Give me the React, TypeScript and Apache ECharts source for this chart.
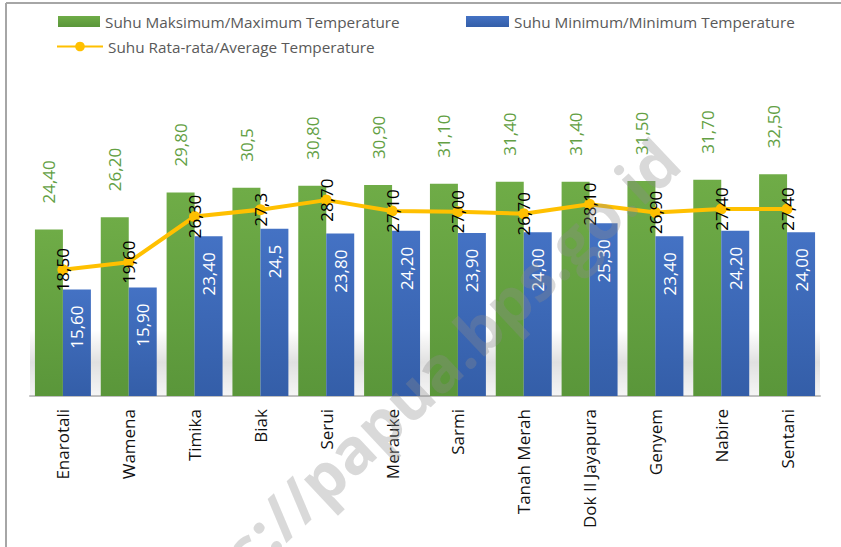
import React, { useEffect, useRef } from "react";
import * as echarts from "echarts";

const categories = [
  "Enarotali", "Wamena", "Timika", "Biak", "Serui", "Merauke",
  "Sarmi", "Tanah Merah", "Dok II Jayapura", "Genyem", "Nabire", "Sentani",
];
const maxTempText = ["24,40", "26,20", "29,80", "30,5", "30,80", "30,90", "31,10", "31,40", "31,40", "31,50", "31,70", "32,50"];
const minTempText = ["15,60", "15,90", "23,40", "24,5", "23,80", "24,20", "23,90", "24,00", "25,30", "23,40", "24,20", "24,00"];
const avgTempText = ["18,50", "19,60", "26,30", "27,3", "28,70", "27,10", "27,00", "26,70", "28,10", "26,90", "27,40", "27,40"];

const NAME_MAX = "Suhu Maksimum/Maximum Temperature";
const NAME_MIN = "Suhu Minimum/Minimum Temperature";
const NAME_AVG = "Suhu Rata-rata/Average Temperature";

const toNum = (s: string) => parseFloat(s.replace(",", "."));
const toData = (arr: string[]) => arr.map((s) => ({ value: toNum(s), label: s }));

const FONT = "'Open Sans', 'Noto Sans', sans-serif";

export default function App() {
  const ref = useRef<HTMLDivElement>(null);
  useEffect(() => {
    if (!ref.current) return;
    const chart = echarts.init(ref.current, null, { renderer: "svg" });
    const lf = (p: any) => p.data.label;
    const legendText = { fontFamily: FONT, fontSize: 15.3, color: "#595959" };
    chart.setOption({
      animation: false,
      backgroundColor: "#ffffff",
      textStyle: { fontFamily: FONT },
      legend: [
        { left: 58, top: 14, padding: 0, itemWidth: 42, itemHeight: 11, itemGap: 0, data: [NAME_MAX], textStyle: legendText, icon: "rect" },
        { left: 466, top: 14, padding: 0, itemWidth: 43, itemHeight: 11, itemGap: 0, data: [NAME_MIN], textStyle: legendText, icon: "rect" },
        { left: 56, top: 39, padding: 0, itemWidth: 46, itemHeight: 12, itemGap: 0, data: [NAME_AVG], textStyle: legendText },
      ],
      grid: { left: 30, right: 21, top: 123, bottom: 151, containLabel: false },
      xAxis: {
        type: "category",
        data: categories,
        axisLine: { show: true, lineStyle: { color: "#bfbfbf", width: 2 } },
        axisTick: { show: false },
        axisLabel: {
          rotate: 90,
          interval: 0,
          margin: 13,
          fontFamily: FONT,
          fontSize: 17,
          color: "#111111",
        },
      },
      yAxis: {
        type: "value",
        min: 0,
        max: 40,
        show: false,
        splitLine: { show: false },
      },
      graphic: [
        {
          type: "rect",
          z: 0,
          silent: true,
          shape: { x: 30, y: 330, width: 790, height: 65 },
          style: {
            fill: new echarts.graphic.LinearGradient(0, 0, 0, 1, [
              { offset: 0, color: "rgba(0,0,0,0)" },
              { offset: 0.5, color: "rgba(0,0,0,0.12)" },
              { offset: 1, color: "rgba(0,0,0,0.04)" },
            ]),
          },
        },
        {
          type: "line",
          z: 100,
          silent: true,
          shape: { x1: 6, y1: 3, x2: 841, y2: 3 },
          style: { stroke: "#a6a6a6", lineWidth: 2 },
        },
        {
          type: "line",
          z: 100,
          silent: true,
          shape: { x1: 6, y1: 3, x2: 6, y2: 547 },
          style: { stroke: "#a6a6a6", lineWidth: 2 },
        },
        {
          type: "text",
          z: 100,
          silent: true,
          x: 668,
          y: 150,
          rotation: 0.756,
          style: {
            text: "s://papua.bps.go.id",
            fontFamily: FONT,
            fontWeight: "bold",
            fontSize: 63,
            fill: "rgba(140,140,140,0.33)",
            align: "right",
            verticalAlign: "middle",
          },
        },
      ],
      series: [
        {
          name: NAME_MAX,
          type: "bar",
          data: toData(maxTempText),
          barGap: "0%",
          barCategoryGap: "15%",
          itemStyle: {
            color: new echarts.graphic.LinearGradient(0, 0, 0, 1, [
              { offset: 0, color: "#6fac47" },
              { offset: 1, color: "#5a963a" },
            ]),
          },
          label: {
            show: true,
            position: "top",
            distance: 26,
            rotate: 90,
            align: "left",
            verticalAlign: "middle",
            formatter: lf,
            fontFamily: FONT,
            fontSize: 17,
            color: "#63a044",
          },
          z: 2,
        },
        {
          name: NAME_MIN,
          type: "bar",
          data: toData(minTempText),
          itemStyle: {
            color: new echarts.graphic.LinearGradient(0, 0, 0, 1, [
              { offset: 0, color: "#4472c4" },
              { offset: 1, color: "#345ea8" },
            ]),
          },
          label: {
            show: true,
            position: "insideTop",
            distance: 16,
            rotate: 90,
            align: "right",
            verticalAlign: "middle",
            formatter: lf,
            fontFamily: FONT,
            fontSize: 17,
            color: "#ffffff",
          },
          z: 2,
        },
        {
          name: NAME_AVG,
          type: "line",
          data: toData(avgTempText),
          symbol: "circle",
          symbolSize: 11,
          lineStyle: { color: "#ffc000", width: 4 },
          itemStyle: { color: "#ffc000" },
          label: {
            show: true,
            position: "inside",
            rotate: 90,
            align: "center",
            verticalAlign: "middle",
            formatter: lf,
            fontFamily: FONT,
            fontSize: 17,
            color: "#000000",
          },
          z: 5,
        },
      ],
    });
    return () => chart.dispose();
  }, []);
  return (
    <div
      ref={ref}
      style={{ position: "absolute", left: 0, top: 0, width: 841, height: 547 }}
    />
  );
}
